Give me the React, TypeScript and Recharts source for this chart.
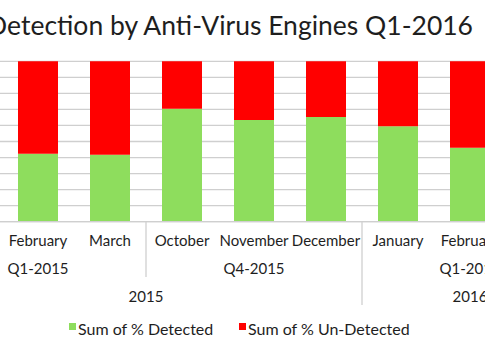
import { BarChart, Bar, XAxis, YAxis, CartesianGrid } from "recharts";

/* ================= DATA ================= */

const months = ["February", "March", "October", "November", "December", "January", "February"];
const quarters = ["Q1-2015", "Q1-2015", "Q4-2015", "Q4-2015", "Q4-2015", "Q1-2016", "Q1-2016"];
const years = ["2015", "2015", "2015", "2015", "2015", "2016", "2016"];

const detected = [42.4, 41.8, 70.4, 63.4, 65.3, 59.5, 46.1];
const undetected = [57.6, 58.2, 29.6, 36.6, 34.7, 40.5, 53.9];

const seriesNames = ["Sum of % Detected", "Sum of % Un-Detected"];
const yTicks = [0, 10, 20, 30, 40, 50, 60, 70, 80, 90, 100];

const title = "Detection by Anti-Virus Engines Q1-2016";

const MONTH_NAMES = [
  "January", "February", "March", "April", "May", "June",
  "July", "August", "September", "October", "November", "December",
];

/* ================= LAYOUT ================= */

const GREEN = "#8edd5d";
const RED = "#ff0000";
const GRID = "#cfcfcf";
const TEXT = "#1e1e1e";
const FONT = "Lato, 'Open Sans', sans-serif";

const BAND = 72;
const AXIS_Y = 221.7;

const data = months.map((m, i) => ({
  month: m,
  detected: detected[i],
  undetected: undetected[i],
}));

// quarter start (band index, may be off-screen) for each quarter label
const quarterStart: Record<string, number> = {};
months.forEach((m, i) => {
  const q = quarters[i];
  if (quarterStart[q] === undefined) {
    quarterStart[q] = i - (MONTH_NAMES.indexOf(m) % 3);
  }
});

// year centre from the quarters it holds
const yearSpan: Record<string, [number, number]> = {};
quarters.forEach((q, i) => {
  const y = years[i];
  const s = quarterStart[q];
  const cur = yearSpan[y];
  yearSpan[y] = cur ? [Math.min(cur[0], s), Math.max(cur[1], s + 2)] : [s, s + 2];
});

/* ================= TICK ================= */

function MultiTick(props: any) {
  const { x, payload } = props;
  const i: number = props.index ?? payload.index;
  const q = quarters[i];
  const y = years[i];

  const parts: any[] = [];
  parts.push(
    <text key="m" x={x} y={246} textAnchor="middle" fontSize={15} fill={TEXT} fontFamily={FONT}>
      {months[i]}
    </text>
  );

  if (quarterStart[q] + 1 === i) {
    parts.push(
      <text key="q" x={x} y={274} textAnchor="middle" fontSize={15} fill={TEXT} fontFamily={FONT}>
        {q}
      </text>
    );
  }

  const [ys, ye] = yearSpan[y];
  const yc = (ys + ye) / 2;
  if (Math.floor(yc) === i) {
    parts.push(
      <text key="y" x={x + (yc - i) * BAND} y={302} textAnchor="middle" fontSize={15} fill={TEXT} fontFamily={FONT}>
        {y}
      </text>
    );
  }

  if (i > 0 && quarters[i - 1] !== q) {
    const bottom = years[i - 1] !== y ? 305 : 277;
    parts.push(
      <line key="s" x1={x - BAND / 2} x2={x - BAND / 2} y1={AXIS_Y} y2={bottom} stroke={GRID} strokeWidth={1.3} />
    );
  }

  return <g>{parts}</g>;
}

/* ================= COMPONENT ================= */

export default function App() {
  const colors = [GREEN, RED];
  const legendX = [69, 239];

  return (
    <div style={styles.frame}>
      <svg width={485} height={50} style={{ position: "absolute", left: 0, top: 0 }}>
        <text x={473} y={35} textAnchor="end" fontSize={26.5} fill={TEXT} fontFamily={FONT}>
          {title}
        </text>
      </svg>

      <div style={{ position: "absolute", left: -70, top: 0 }}>
        <BarChart
          width={648}
          height={360}
          data={data}
          margin={{ top: 61.3, right: 0, bottom: 38.3, left: 0 }}
          barSize={40}
        >
          <CartesianGrid vertical={false} stroke={GRID} strokeWidth={1.3} />
          <YAxis hide domain={[0, 100]} ticks={yTicks} tickCount={11} interval={0} />
          <XAxis
            dataKey="month"
            height={100}
            padding={{ left: BAND, right: BAND }}
            axisLine={{ stroke: GRID, strokeWidth: 1.3 }}
            tickLine={false}
            interval={0}
            tick={<MultiTick />}
          />
          <Bar dataKey="detected" name={seriesNames[0]} stackId="a" fill={GREEN} isAnimationActive={false} />
          <Bar dataKey="undetected" name={seriesNames[1]} stackId="a" fill={RED} isAnimationActive={false} />
        </BarChart>
      </div>

      <svg width={485} height={40} style={{ position: "absolute", left: 0, top: 310 }}>
        {seriesNames.map((n, i) => (
          <g key={n}>
            <rect x={legendX[i]} y={13} width={7} height={7} fill={colors[i]} />
            <text x={legendX[i] + 9} y={25} fontSize={16} fill={TEXT} fontFamily={FONT}>
              {n}
            </text>
          </g>
        ))}
      </svg>
    </div>
  );
}

/* ================= STYLES ================= */

const styles: Record<string, React.CSSProperties> = {
  frame: {
    position: "absolute",
    left: 0,
    top: 0,
    width: 485,
    height: 360,
    overflow: "hidden",
    background: "#fff",
  },
};
